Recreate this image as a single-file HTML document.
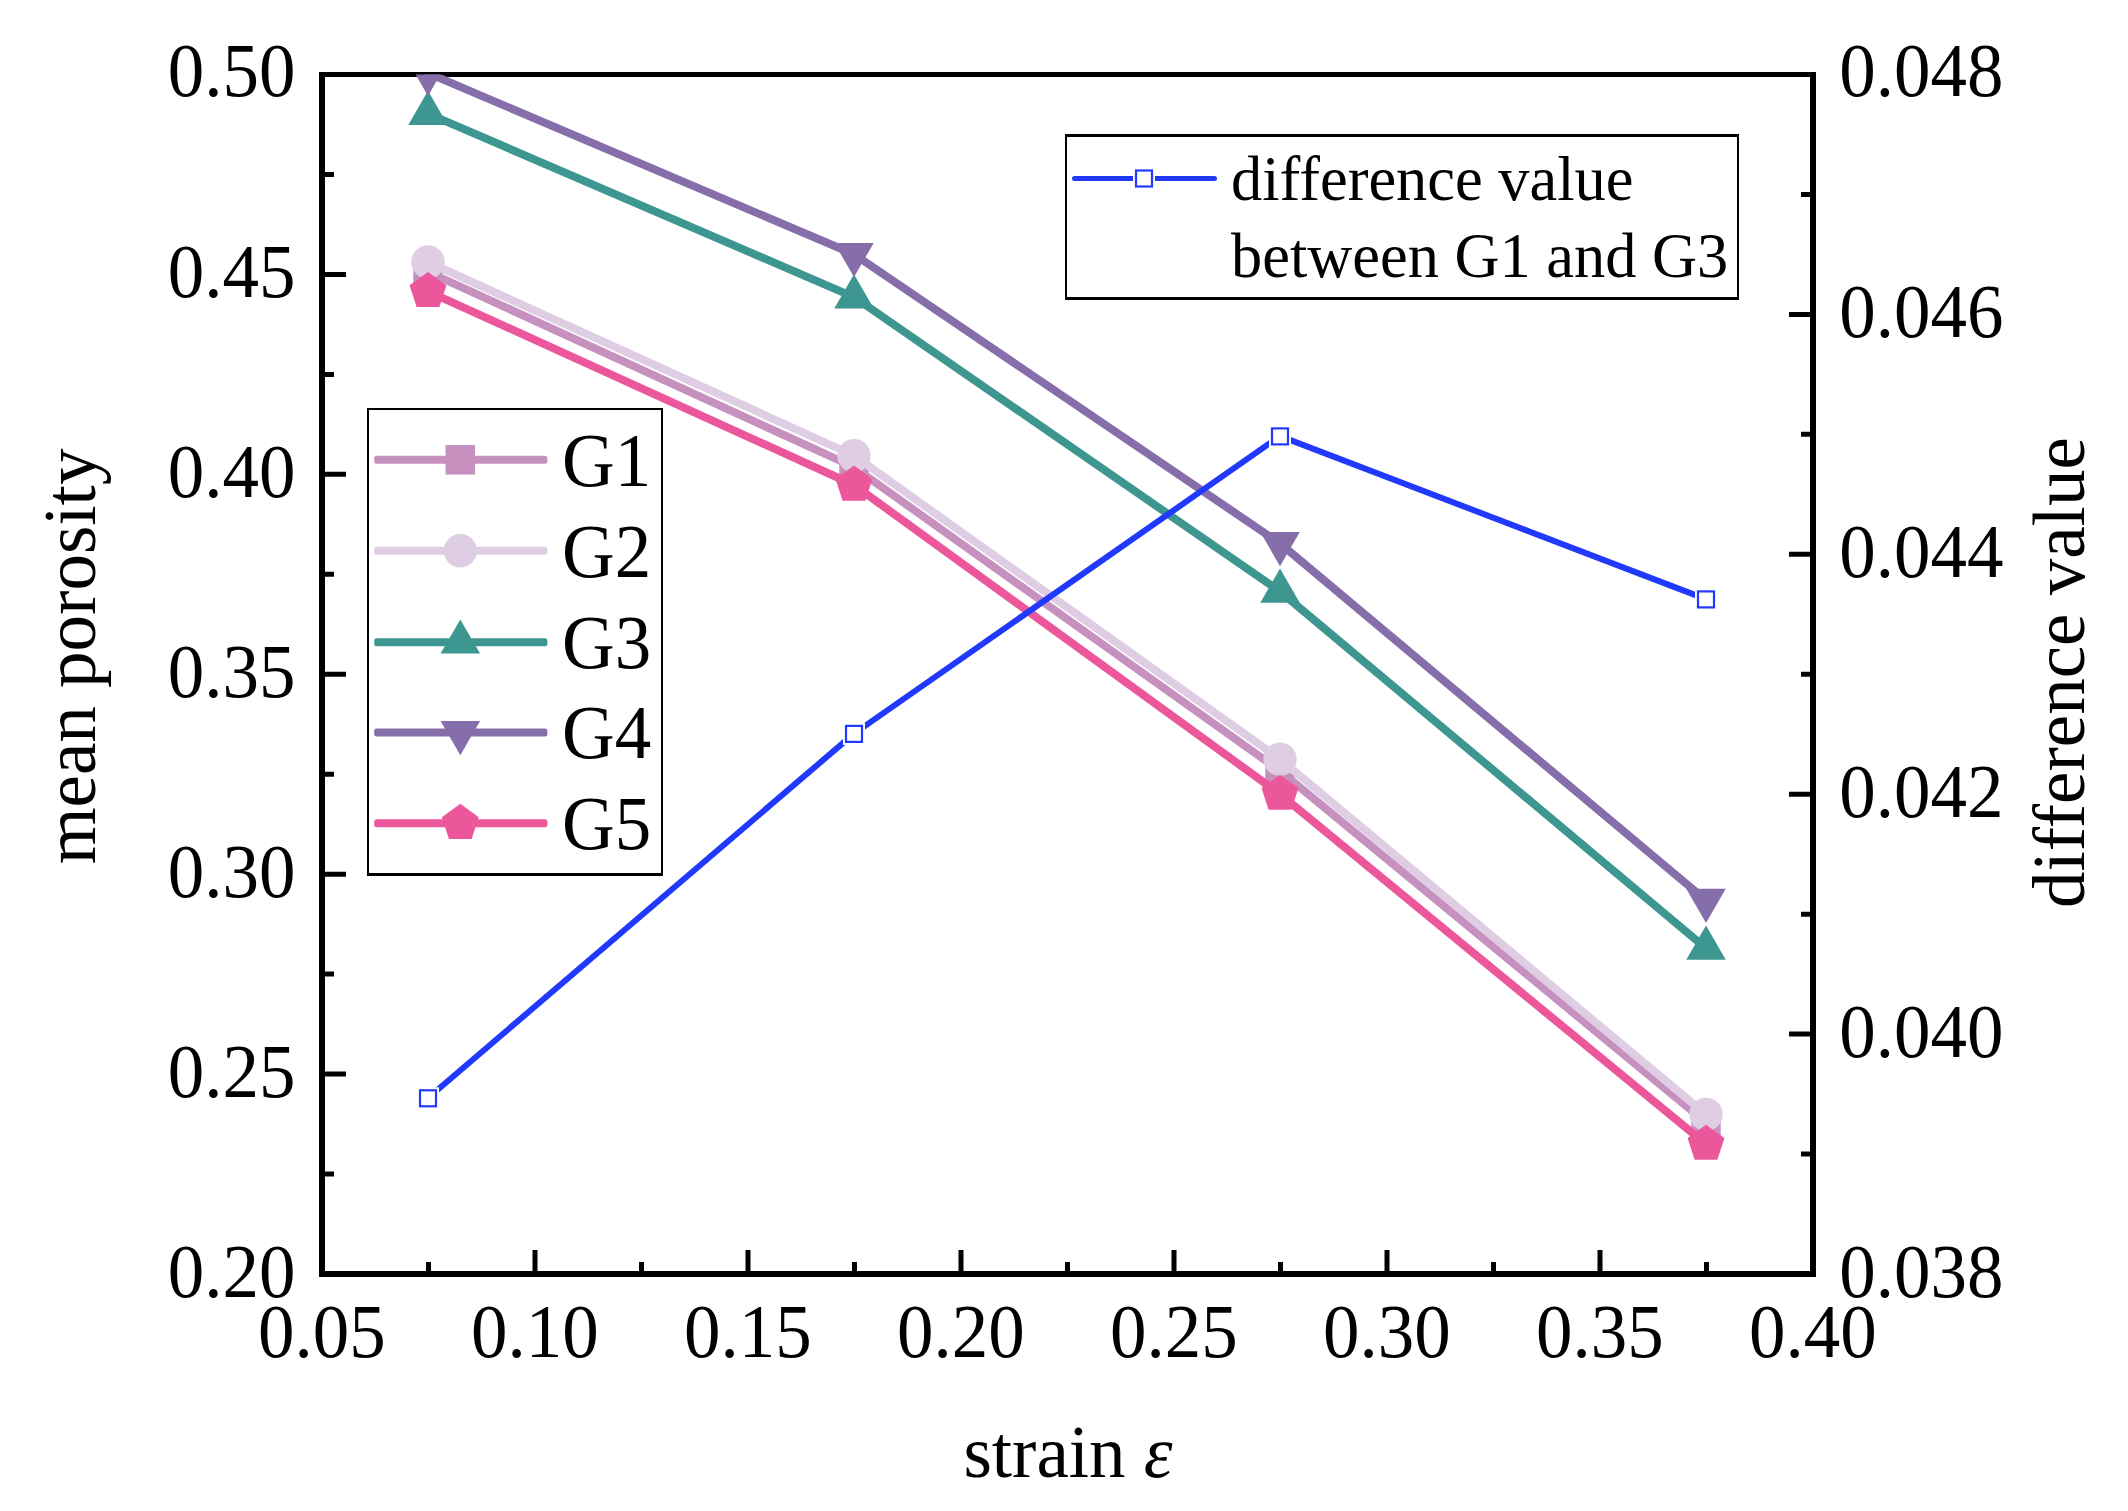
<!DOCTYPE html>
<html lang="en">
<head>
<meta charset="utf-8">
<title>mean porosity vs strain</title>
<style>
html,body{margin:0;padding:0;background:#fff;}
body{width:2128px;height:1511px;overflow:hidden;}
svg{display:block;}
text{font-family:"Liberation Serif","Times New Roman",serif;font-size:73px;fill:#000;font-variant-ligatures:none;}
.it{font-style:italic;}
</style>
</head>
<body>
<svg width="2128" height="1511" viewBox="0 0 2128 1511">
<rect x="0" y="0" width="2128" height="1511" fill="#fff"/>
<defs><clipPath id="plot"><rect x="322" y="74.5" width="1491" height="1199.5"/></clipPath></defs>
<g fill="#000" stroke="none">
<rect x="319" y="72" width="6" height="1205"/>
<rect x="1810" y="72" width="6" height="1205"/>
<rect x="319" y="72" width="1497" height="5"/>
<rect x="319" y="1271" width="1497" height="6"/>
</g>
<g stroke="#000" stroke-width="5" fill="none" stroke-linecap="butt">
<path d="M325 174.46h9 M325 274.42h21 M325 374.38h9 M325 474.33h21 M325 574.29h9 M325 674.25h21 M325 774.21h9 M325 874.17h21 M325 974.12h9 M325 1074.08h21 M325 1174.04h9 M1810 194.45h-9 M1810 314.4h-21 M1810 434.35h-9 M1810 554.3h-21 M1810 674.25h-9 M1810 794.2h-21 M1810 914.15h-9 M1810 1034.1h-21 M1810 1154.05h-9 M428.5 1271v-9 M535 1271v-21 M641.5 1271v-9 M748 1271v-21 M854.5 1271v-9 M961 1271v-21 M1067.5 1271v-9 M1174 1271v-21 M1280.5 1271v-9 M1387 1271v-21 M1493.5 1271v-9 M1600 1271v-21 M1706.5 1271v-9"/>
</g>
<g clip-path="url(#plot)">
<g fill="#C691BF" stroke="none">
<polyline points="428,271.8 854,467.2 1280,770.8 1706,1122.3" fill="none" stroke="#C691BF" stroke-width="8" stroke-linejoin="round" stroke-linecap="round"/>
<rect x="413.25" y="257.05" width="29.5" height="29.5"/>
<rect x="839.25" y="452.45" width="29.5" height="29.5"/>
<rect x="1265.25" y="756.05" width="29.5" height="29.5"/>
<rect x="1691.25" y="1107.55" width="29.5" height="29.5"/>
</g>
<g fill="#DFCDE4" stroke="none">
<polyline points="428,262 854,455.6 1280,759.1 1706,1114.4" fill="none" stroke="#DFCDE4" stroke-width="8" stroke-linejoin="round" stroke-linecap="round"/>
<circle cx="428" cy="262" r="16.7"/>
<circle cx="854" cy="455.6" r="16.7"/>
<circle cx="1280" cy="759.1" r="16.7"/>
<circle cx="1706" cy="1114.4" r="16.7"/>
</g>
<g fill="#3E9690" stroke="none">
<polyline points="428,113.6 854,297.05 1280,591.4 1706,948.3" fill="none" stroke="#3E9690" stroke-width="8" stroke-linejoin="round" stroke-linecap="round"/>
<polygon points="428,90.8 447.75,125 408.25,125"/>
<polygon points="854,274.25 873.75,308.45 834.25,308.45"/>
<polygon points="1280,568.6 1299.75,602.8 1260.25,602.8"/>
<polygon points="1706,925.5 1725.75,959.7 1686.25,959.7"/>
</g>
<g fill="#866EAB" stroke="none">
<polyline points="428,73.1 854,254.3 1280,543.4 1706,900.2" fill="none" stroke="#866EAB" stroke-width="8" stroke-linejoin="round" stroke-linecap="round"/>
<polygon points="428,95.9 447.75,61.7 408.25,61.7"/>
<polygon points="854,277.1 873.75,242.9 834.25,242.9"/>
<polygon points="1280,566.2 1299.75,532 1260.25,532"/>
<polygon points="1706,923 1725.75,888.8 1686.25,888.8"/>
</g>
<g fill="#EC579B" stroke="none">
<polyline points="428,291.3 854,485 1280,794.1 1706,1144.1" fill="none" stroke="#EC579B" stroke-width="8" stroke-linejoin="round" stroke-linecap="round"/>
<polygon points="428,271.9 446.45,285.31 439.4,306.99 416.6,306.99 409.55,285.31"/>
<polygon points="854,465.6 872.45,479.01 865.4,500.69 842.6,500.69 835.55,479.01"/>
<polygon points="1280,774.7 1298.45,788.11 1291.4,809.79 1268.6,809.79 1261.55,788.11"/>
<polygon points="1706,1124.7 1724.45,1138.11 1717.4,1159.79 1694.6,1159.79 1687.55,1138.11"/>
</g>
</g>
<g>
<polyline points="428,1098 854,733.6 1280,436.1 1706,599.1" fill="none" stroke="#2039FC" stroke-width="6" stroke-linejoin="round"/>
<rect x="417" y="1087.3" width="22" height="22" fill="#fff"/><rect x="420" y="1090.3" width="16" height="16" fill="#fff" stroke="#2039FC" stroke-width="2.2"/>
<rect x="843" y="722.9" width="22" height="22" fill="#fff"/><rect x="846" y="725.9" width="16" height="16" fill="#fff" stroke="#2039FC" stroke-width="2.2"/>
<rect x="1269" y="425.4" width="22" height="22" fill="#fff"/><rect x="1272" y="428.4" width="16" height="16" fill="#fff" stroke="#2039FC" stroke-width="2.2"/>
<rect x="1695" y="588.4" width="22" height="22" fill="#fff"/><rect x="1698" y="591.4" width="16" height="16" fill="#fff" stroke="#2039FC" stroke-width="2.2"/>
</g>
<text text-anchor="end" transform="translate(295.5 96.1) scale(1 1.045)">0.50</text>
<text text-anchor="end" transform="translate(295.5 297.32) scale(1 1.045)">0.45</text>
<text text-anchor="end" transform="translate(295.5 497.23) scale(1 1.045)">0.40</text>
<text text-anchor="end" transform="translate(295.5 697.15) scale(1 1.045)">0.35</text>
<text text-anchor="end" transform="translate(295.5 897.07) scale(1 1.045)">0.30</text>
<text text-anchor="end" transform="translate(295.5 1096.98) scale(1 1.045)">0.25</text>
<text text-anchor="end" transform="translate(295.5 1296.9) scale(1 1.045)">0.20</text>
<text text-anchor="start" transform="translate(1839.2 96.3) scale(1 1.045)">0.048</text>
<text text-anchor="start" transform="translate(1839.2 337.2) scale(1 1.045)">0.046</text>
<text text-anchor="start" transform="translate(1839.2 577.1) scale(1 1.045)">0.044</text>
<text text-anchor="start" transform="translate(1839.2 817) scale(1 1.045)">0.042</text>
<text text-anchor="start" transform="translate(1839.2 1056.9) scale(1 1.045)">0.040</text>
<text text-anchor="start" transform="translate(1839.2 1296.8) scale(1 1.045)">0.038</text>
<text text-anchor="middle" transform="translate(322 1357) scale(1 1.045)">0.05</text>
<text text-anchor="middle" transform="translate(535 1357) scale(1 1.045)">0.10</text>
<text text-anchor="middle" transform="translate(748 1357) scale(1 1.045)">0.15</text>
<text text-anchor="middle" transform="translate(961 1357) scale(1 1.045)">0.20</text>
<text text-anchor="middle" transform="translate(1174 1357) scale(1 1.045)">0.25</text>
<text text-anchor="middle" transform="translate(1387 1357) scale(1 1.045)">0.30</text>
<text text-anchor="middle" transform="translate(1600 1357) scale(1 1.045)">0.35</text>
<text text-anchor="middle" transform="translate(1813 1357) scale(1 1.045)">0.40</text>
<text text-anchor="middle" transform="translate(95.3 656.4) rotate(-90)">mean porosity</text>
<text text-anchor="middle" transform="translate(2084.3 672.6) rotate(-90)">difference value</text>
<text text-anchor="middle" x="1068" y="1477">strain <tspan class="it">ε</tspan></text>
<rect x="367" y="408" width="296" height="468" fill="#000"/><rect x="369" y="410" width="292" height="463" fill="#fff"/>
<g fill="#C691BF"><rect x="374.2" y="455.8" width="173.2" height="8" rx="2.5"/><rect x="445.55" y="445.05" width="29.5" height="29.5"/></g>
<text text-anchor="start" transform="translate(562 485.6) scale(1 1.045)">G1</text>
<g fill="#DFCDE4"><rect x="374.2" y="546.7" width="173.2" height="8" rx="2.5"/><circle cx="460.3" cy="550.7" r="16.7"/></g>
<text text-anchor="start" transform="translate(562 576.5) scale(1 1.045)">G2</text>
<g fill="#3E9690"><rect x="374.2" y="638.2" width="173.2" height="8" rx="2.5"/><polygon points="460.3,619.4 480.05,653.6 440.55,653.6"/></g>
<text text-anchor="start" transform="translate(562 668) scale(1 1.045)">G3</text>
<g fill="#866EAB"><rect x="374.2" y="728.4" width="173.2" height="8" rx="2.5"/><polygon points="460.3,755.2 480.05,721 440.55,721"/></g>
<text text-anchor="start" transform="translate(562 758.2) scale(1 1.045)">G4</text>
<g fill="#EC579B"><rect x="374.2" y="819.2" width="173.2" height="8" rx="2.5"/><polygon points="460.3,803.8 478.75,817.21 471.7,838.89 448.9,838.89 441.85,817.21"/></g>
<text text-anchor="start" transform="translate(562 849) scale(1 1.045)">G5</text>
<rect x="1065" y="134" width="674" height="166" fill="#000"/><rect x="1067" y="137" width="670" height="160" fill="#fff"/>
<line x1="1074.5" y1="178.4" x2="1214.5" y2="178.4" stroke="#2039FC" stroke-width="5" stroke-linecap="round"/>
<rect x="1133" y="167.5" width="22" height="22" fill="#fff"/><rect x="1136" y="170.5" width="16" height="16" fill="#fff" stroke="#2039FC" stroke-width="2.2"/>
<text x="1231" y="199.7" style="font-size:62.4px">difference value</text>
<text x="1231" y="276.7" style="font-size:62.4px">between G1 and G3</text>
</svg>
</body>
</html>
